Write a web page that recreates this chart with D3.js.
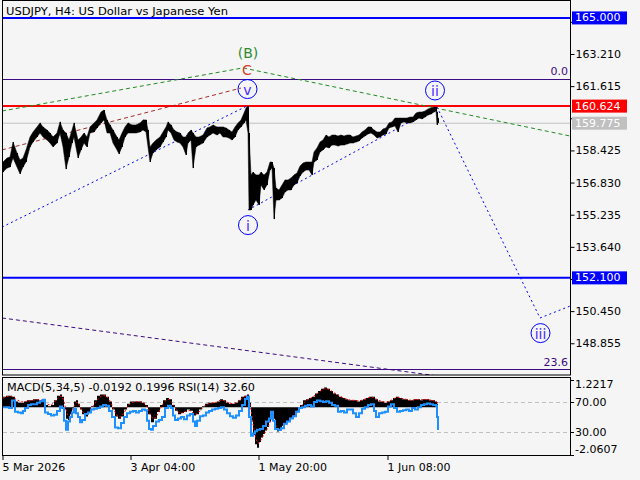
<!DOCTYPE html>
<html><head><meta charset="utf-8">
<script src="https://cdn.jsdelivr.net/npm/d3@7"></script>
<style>body{margin:0;background:#f5f5f5;}svg{display:block;}text{font-family:"DejaVu Sans",sans-serif;}</style>
</head><body>
<script>
// ---------- DATA ----------
const title = "USDJPY, H4:  US Dollar vs Japanese Yen";
const timeTickBars = [0, 128, 256, 385];
const timeTickLabels = ["5 Mar 2026", "3 Apr 04:00", "1 May 20:00", "1 Jun 08:00"];
const priceTicks = [164.805, 163.210, 161.615, 160.020, 158.425, 156.830, 155.235, 153.640, 152.045, 150.450, 148.855];
const hiddenTickLabels = [164.805, 160.020, 152.045]; // covered by the level boxes

// price samples: bar index, high, low
const priceBar = [1,5,8,11,15,18,21,24,28,31,35,38,41,45,48,51,55,58,61,64,67,70,72,76,79,82,85,88,92,95,99,102,105,108,111,115,117,120,123,126,130,134,138,141,144,146,148,151,154,158,161,164,166,169,172,175,178,181,184,186,189,191,194,197,201,205,208,211,215,218,221,224,227,230,233,236,239,242,244,246,247,249,251,254,257,259,262,265,268,270,272,274,277,280,283,286,289,292,295,298,301,304,307,310,312,315,318,321,324,327,330,333,336,339,342,345,348,351,354,357,360,363,366,369,372,375,378,381,384,387,390,393,396,399,402,405,408,411,414,417,420,423,426,429,432,434,435,436];
const priceHigh = [157.85,158.05,158.10,158.84,158.30,157.95,158.05,158.45,159.09,159.34,159.59,159.79,159.59,159.44,159.29,159.09,159.29,159.84,159.44,159.29,158.94,159.44,159.79,158.94,159.09,159.29,159.09,159.59,159.79,159.94,160.33,160.43,159.94,159.69,159.44,159.09,158.94,159.29,159.59,159.79,159.69,159.69,159.79,159.94,159.94,159.44,158.60,158.79,158.94,159.09,159.34,159.59,159.84,159.69,159.44,159.34,159.29,159.09,159.09,159.29,159.44,159.29,159.09,159.09,159.19,159.54,159.59,159.69,159.59,159.59,159.59,159.54,159.44,159.34,159.59,159.79,159.94,160.28,160.53,160.63,159.29,157.21,157.35,157.21,157.21,157.35,157.21,157.35,157.85,157.85,157.55,156.56,156.46,156.71,156.96,156.96,157.06,157.21,157.30,157.65,157.80,157.85,157.85,157.85,158.35,158.55,158.84,158.94,159.19,159.09,159.19,159.19,159.14,159.19,159.14,159.19,159.19,159.09,159.14,159.19,159.34,159.44,159.59,159.59,159.44,159.34,159.34,159.49,159.54,159.79,159.84,160.03,160.03,160.03,160.03,160.03,160.08,160.08,160.28,160.33,160.33,160.38,160.48,160.53,160.58,160.58,160.33,160.03];
const priceLow = [157.35,157.55,157.60,158.05,157.60,157.26,157.60,157.85,158.60,158.84,159.09,159.29,159.09,158.94,158.79,158.60,158.79,159.29,158.60,157.50,158.10,158.79,159.09,158.05,158.45,158.79,158.60,159.29,159.34,159.54,159.79,159.94,159.29,159.29,158.79,158.45,158.25,158.60,159.09,159.29,159.29,159.29,159.34,159.44,159.34,158.60,157.85,158.30,158.45,158.60,158.84,159.09,159.44,159.29,158.94,158.84,158.79,158.60,158.20,158.79,158.94,157.55,158.60,158.69,158.79,159.09,159.19,159.29,159.19,159.29,159.09,159.09,159.04,158.94,159.09,159.44,159.59,159.79,159.94,159.29,155.47,155.47,155.72,155.96,155.72,156.71,156.46,156.71,157.45,157.55,155.02,155.96,155.96,156.06,156.36,156.46,156.46,156.71,156.81,157.16,157.35,157.45,157.45,157.21,157.85,157.95,158.35,158.45,158.60,158.55,158.69,158.69,158.64,158.69,158.69,158.74,158.79,158.79,158.84,158.89,159.04,159.14,159.24,159.29,159.19,159.04,159.09,159.19,159.24,159.54,159.59,159.64,159.34,159.79,159.84,159.79,159.79,159.84,159.94,160.03,159.99,160.08,160.18,160.23,160.33,160.38,159.69,159.79];

// horizontal levels
const levelPrices = [165.000, 160.624, 159.775, 152.100];
const levelColors = ["#0000ff", "#ff0000", "#c0c0c0", "#0000ff"];
const levelWidths = [2, 2, 1, 2];
const fibPrices = [161.954, 147.58];
const fibLabels = ["0.0", "23.6"];

// wave lines (bar, price)
const greenLineBars = [0, 241, 568];
const greenLinePrices = [160.38, 162.52, 159.14];
const redLineBars = [0, 239];
const redLinePrices = [158.45, 161.52];
const blueLine1Bars = [0, 245];
const blueLine1Prices = [154.62, 160.63];
const blueLine2Bars = [246, 435, 538, 568];
const blueLine2Prices = [155.47, 160.58, 150.11, 150.70];
const purpleLineBars = [0, 568];
const purpleLinePrices = [150.11, 146.36];

// wave labels
const circleLabels = ["v", "ii", "i", "iii"];
const circleBars = [245.5, 433, 246, 538.5];
const circlePrices = [161.47, 161.40, 154.72, 149.36];

// MACD / RSI panel
const indLabel = "MACD(5,34,5) -0.0192 0.1996 RSI(14) 32.60";
const macdBar = [1,4,7,10,13,16,19,22,25,28,31,34,37,40,43,46,49,52,55,58,60,62,64,66,68,70,72,74,76,78,80,83,86,89,92,95,98,101,104,107,110,113,116,119,122,125,128,131,134,137,140,143,146,149,152,155,158,161,164,167,170,173,176,179,182,185,188,191,194,197,200,203,206,209,212,215,218,221,224,227,230,233,236,239,242,245,247,249,251,253,255,257,259,261,263,265,267,269,271,273,275,277,280,283,286,289,292,295,298,301,304,307,310,313,316,319,322,325,328,331,334,337,340,343,346,349,352,355,358,361,364,367,370,373,376,379,382,385,388,391,394,397,400,403,406,409,412,415,418,421,424,427,430,433,435,436];
const macdValues = [0.45,0.5,0.5,0.45,0.25,0.2,0.2,0.25,0.3,0.3,0.35,0.35,0.3,0.3,0.1,0.05,0.1,0.3,0.5,0.55,0.45,-0.1,-0.5,-0.55,-0.3,-0.05,0.25,0.3,0.15,-0.1,-0.3,-0.4,-0.25,0.05,0.3,0.5,0.55,0.55,0.45,0.25,-0.1,-0.4,-0.5,-0.4,-0.1,0.15,0.25,0.25,0.25,0.25,0.2,0.1,-0.3,-0.65,-0.5,-0.2,0.1,0.3,0.4,0.35,0.1,-0.15,-0.3,-0.25,-0.2,-0.1,-0.15,-0.35,-0.3,-0.1,0.05,0.15,0.2,0.2,0.2,0.25,0.35,0.3,0.2,0.15,0.15,0.2,0.3,0.45,0.5,0.55,0.2,-0.6,-1.2,-1.6,-1.75,-1.5,-1.3,-1.15,-1.0,-0.85,-0.6,-0.4,-0.5,-0.9,-1.05,-1.0,-0.8,-0.7,-0.6,-0.45,-0.35,-0.15,0.1,0.3,0.35,0.4,0.45,0.6,0.7,0.8,0.85,0.8,0.7,0.6,0.55,0.45,0.4,0.35,0.3,0.3,0.3,0.25,0.3,0.35,0.4,0.45,0.45,0.35,0.25,0.25,0.2,0.25,0.3,0.4,0.45,0.4,0.35,0.35,0.3,0.3,0.35,0.35,0.3,0.35,0.35,0.3,0.3,0.25,0.15,-0.02];
const signalValues = [0.4,0.45,0.48,0.47,0.38,0.3,0.24,0.23,0.26,0.28,0.31,0.33,0.32,0.31,0.22,0.12,0.1,0.2,0.35,0.47,0.48,0.25,-0.1,-0.4,-0.4,-0.2,0.05,0.2,0.2,0.05,-0.15,-0.3,-0.3,-0.1,0.1,0.3,0.45,0.5,0.5,0.35,0.1,-0.2,-0.4,-0.42,-0.25,0,0.15,0.22,0.24,0.24,0.22,0.15,-0.05,-0.4,-0.5,-0.35,-0.1,0.15,0.3,0.35,0.2,0,-0.2,-0.25,-0.22,-0.15,-0.14,-0.25,-0.3,-0.2,-0.05,0.08,0.15,0.18,0.2,0.22,0.3,0.3,0.25,0.18,0.16,0.18,0.25,0.37,0.45,0.5,0.35,-0.1,-0.7,-1.2,-1.5,-1.55,-1.4,-1.25,-1.1,-0.95,-0.75,-0.55,-0.5,-0.7,-0.9,-1.0,-0.9,-0.78,-0.68,-0.55,-0.42,-0.25,-0.05,0.15,0.28,0.36,0.42,0.52,0.62,0.72,0.8,0.8,0.75,0.66,0.58,0.5,0.43,0.38,0.33,0.31,0.3,0.28,0.28,0.32,0.37,0.42,0.44,0.4,0.3,0.27,0.23,0.23,0.27,0.35,0.42,0.42,0.38,0.36,0.32,0.3,0.33,0.34,0.32,0.33,0.34,0.32,0.3,0.27,0.2,0.2];
const rsiBar = [1,4,7,10,13,16,19,21,23,26,29,32,35,38,41,43,46,49,52,55,58,60,62,64,66,68,70,72,74,76,78,80,83,86,89,92,95,98,101,104,107,110,113,116,119,122,125,128,131,134,137,140,143,145,147,149,151,154,157,160,163,166,169,171,173,176,179,182,185,188,191,193,195,198,201,204,207,210,213,216,219,222,225,228,231,234,237,240,243,245,247,249,251,253,255,258,261,264,267,269,271,273,276,279,282,285,288,291,294,297,300,303,306,309,312,315,318,321,324,327,330,333,336,339,342,345,348,351,354,357,360,363,366,369,372,374,377,380,383,386,389,392,395,398,401,404,407,410,413,416,419,422,425,428,431,434,435,436];
const rsiValues = [63,63,62,72,57,56,55,58,62,66,67,67,69,71,73,56,54,52,53,58,64,62,45,33,44,50,56,61,55,50,43,46,54,56,60,61,62,64,66,65,58,50,36,35,42,50,55,57,58,56,58,60,59,45,34,33,38,44,46,50,62,65,62,52,46,48,50,47,52,54,44,38,45,51,52,56,58,60,61,62,63,60,55,51,49,52,58,66,74,77,50,25,28,31,33,34,38,44,48,57,45,34,33,35,41,44,48,51,57,62,63,65,66,64,70,72,71,70,71,69,66,65,57,58,56,60,60,55,50,55,61,63,66,67,58,50,55,56,57,64,67,62,57,58,59,60,58,62,60,63,66,67,68,67,66,65,50,32.6];
const rsiLevels = [70, 30];
const indAxisLabels = ["1.2217", "70.00", "30.00", "-2.0607"];

// ---------- DRAW ----------
const W = 640, H = 480;
const svg = d3.select("body").append("svg").attr("width", W).attr("height", H);
svg.append("rect").attr("width", W).attr("height", H).attr("fill", "#f5f5f5");

const x = d3.scaleLinear().domain([0, 568]).range([2, 570]);
const y = d3.scaleLinear().domain([147.28, 165.84]).range([375, 1]);
const ym = d3.scaleLinear().domain([-2.0607, 1.2217]).range([455, 379]);
const yr = d3.scaleLinear().domain([0, 100]).range([454.5, 379.5]);

const main = svg.append("g");
main.append("clipPath").attr("id", "cm").append("rect").attr("x", 2).attr("y", 1).attr("width", 568).attr("height", 374);
const mg = main.append("g").attr("clip-path", "url(#cm)");

// y axis
const yAxis = d3.axisRight(y).tickValues(priceTicks).tickSize(4)
  .tickFormat(d => hiddenTickLabels.includes(d) ? "" : d3.format(".3f")(d));
const ya = svg.append("g").attr("transform", "translate(570.5,0)").call(yAxis);
ya.select(".domain").remove();
ya.selectAll("line").attr("stroke", "#000");
ya.selectAll("text").attr("x", 5).attr("fill", "#000").style("font-size", "11px").style("font-family", "DejaVu Sans");

// fib lines
fibPrices.forEach((p, i) => {
  mg.append("line").attr("x1", 2).attr("x2", 570).attr("y1", Math.round(y(p)) + 0.5).attr("y2", Math.round(y(p)) + 0.5)
    .attr("stroke", "#3c0a82").attr("stroke-width", 1);
});
main.append("text").attr("x", 568).attr("y", y(fibPrices[0]) - 4).attr("text-anchor", "end").attr("fill", "#3c0a82").style("font-size", "11px").text(fibLabels[0]);
main.append("text").attr("x", 568).attr("y", y(fibPrices[1]) - 3).attr("text-anchor", "end").attr("fill", "#3c0a82").style("font-size", "11px").text(fibLabels[1]);

// level lines
levelPrices.forEach((p, i) => {
  mg.append("line").attr("x1", 2).attr("x2", 570).attr("y1", y(p)).attr("y2", y(p))
    .attr("stroke", levelColors[i]).attr("stroke-width", levelWidths[i]);
});

// wave lines
function wline(bars, prices, color, dash) {
  const pts = bars.map((b, i) => [x(b), y(prices[i])]);
  mg.append("path").attr("d", d3.line()(pts)).attr("fill", "none").attr("stroke", color)
    .attr("stroke-width", 1).attr("stroke-dasharray", dash);
}
wline(purpleLineBars, purpleLinePrices, "#3c0a82", "4,3");
wline(greenLineBars, greenLinePrices, "#228b22", "4,3");
wline(redLineBars, redLinePrices, "#a52a2a", "4,3");
wline(blueLine1Bars, blueLine1Prices, "#0000ff", "2,3");
wline(blueLine2Bars, blueLine2Prices, "#0000ff", "2,3");

// price series
const pdata = priceBar.map((b, i) => ({b, h: priceHigh[i], l: priceLow[i]}));
const parea = d3.area().x(d => x(d.b)).y0(d => y(d.l)).y1(d => y(d.h));
mg.append("path").attr("d", parea(pdata)).attr("fill", "#000").attr("stroke", "#000").attr("stroke-width", 0.5);
mg.selectAll("line.bar").data(pdata).enter().append("line").attr("class", "bar")
  .attr("x1", d => Math.round(x(d.b)) + 0.5).attr("x2", d => Math.round(x(d.b)) + 0.5)
  .attr("y1", d => y(d.h)).attr("y2", d => y(d.l)).attr("stroke", "#000").attr("stroke-width", 1);

// wave labels
main.append("text").attr("x", x(246)).attr("y", y(163.26)).attr("text-anchor", "middle").attr("dominant-baseline", "central")
  .attr("fill", "#2e8b2e").style("font-size", "14px").text("(B)");
main.append("text").attr("x", x(245)).attr("y", y(162.40)).attr("text-anchor", "middle").attr("dominant-baseline", "central")
  .attr("fill", "#d2412a").style("font-size", "14px").text("C");
circleLabels.forEach((t, i) => {
  const cx = x(circleBars[i]), cy = y(circlePrices[i]);
  main.append("circle").attr("cx", cx).attr("cy", cy).attr("r", 9.5).attr("fill", "none").attr("stroke", "#0000ff").attr("stroke-width", 1);
  main.append("text").attr("x", cx).attr("y", cy + 1).attr("text-anchor", "middle").attr("dominant-baseline", "central")
    .attr("fill", "#4a2cff").style("font-size", "14px").text(t);
});

// level labels on axis
const levelBg = ["#0000ff", "#ff0000", "#c0c0c0", "#0000ff"];
levelPrices.forEach((p, i) => {
  const yy = y(p);
  svg.append("rect").attr("x", 572).attr("y", yy - 6.5).attr("width", 55).attr("height", 13).attr("fill", levelBg[i]);
  svg.append("text").attr("x", 575).attr("y", yy).attr("dominant-baseline", "central").attr("fill", "#fff").style("font-size", "11px").text(d3.format(".3f")(p));
});

// title
svg.append("text").attr("x", 6).attr("y", 15).attr("fill", "#000").style("font-size", "11px").attr("textLength", 222).attr("lengthAdjust", "spacingAndGlyphs").text(title);

// frames
svg.append("rect").attr("x", 2.5).attr("y", 0.5).attr("width", 568).attr("height", 374.5).attr("fill", "none").attr("stroke", "#000");
svg.append("rect").attr("x", 2.5).attr("y", 377.5).attr("width", 568).attr("height", 78).attr("fill", "none").attr("stroke", "#000");

// indicator panel
const ig = svg.append("g");
ig.append("clipPath").attr("id", "ci").append("rect").attr("x", 3).attr("y", 378).attr("width", 567).attr("height", 77);
const ic = ig.append("g").attr("clip-path", "url(#ci)");
rsiLevels.forEach(v => {
  ic.append("line").attr("x1", 3).attr("x2", 570).attr("y1", Math.round(yr(v)) + 0.5).attr("y2", Math.round(yr(v)) + 0.5)
    .attr("stroke", "#c0c0c0").attr("stroke-dasharray", "4,3");
});
const mdata = macdBar.map((b, i) => ({b, m: macdValues[i], s: signalValues[i]}));
ic.append("path").attr("d", d3.area().x(d => x(d.b)).y0(ym(0)).y1(d => ym(d.m)).curve(d3.curveStepAfter)(mdata)).attr("fill", "#000");
ic.append("path").attr("d", d3.line().x(d => x(d.b)).y(d => ym(d.s))(mdata)).attr("fill", "none").attr("stroke", "#ff0000").attr("stroke-width", 1).attr("stroke-dasharray", "2,2");
const rdata = rsiBar.map((b, i) => ({b, r: rsiValues[i]}));
ic.append("path").attr("d", d3.line().x(d => x(d.b)).y(d => yr(d.r)).curve(d3.curveStepAfter)(rdata)).attr("fill", "none").attr("stroke", "#1e90ff").attr("stroke-width", 2);
ig.append("text").attr("x", 7).attr("y", 391).attr("fill", "#000").style("font-size", "11px").attr("textLength", 248).attr("lengthAdjust", "spacingAndGlyphs").text(indLabel);

// indicator axis
const indTickY = [380, yr(70), yr(30), 455];
const indLabelY = [384, yr(70), yr(30), 449];
indTickY.forEach(v => svg.append("line").attr("x1", 570).attr("x2", 574).attr("y1", Math.round(v) + 0.5).attr("y2", Math.round(v) + 0.5).attr("stroke", "#000"));
indAxisLabels.forEach((t, i) => svg.append("text").attr("x", 575).attr("y", indLabelY[i]).attr("dominant-baseline", "central").attr("fill", "#000").style("font-size", "11px").text(t));

// time axis
const xAxis = d3.axisBottom(x).tickValues(timeTickBars).tickSize(4).tickFormat((d, i) => timeTickLabels[i]);
const xa = svg.append("g").attr("transform", "translate(0.5,456)").call(xAxis);
xa.select(".domain").remove();
xa.selectAll("line").attr("stroke", "#000");
xa.selectAll("text").attr("text-anchor", "start").attr("x", -0.5).attr("y", 7).attr("fill", "#000").style("font-size", "11px").style("font-family", "DejaVu Sans");
</script>
</body></html>
